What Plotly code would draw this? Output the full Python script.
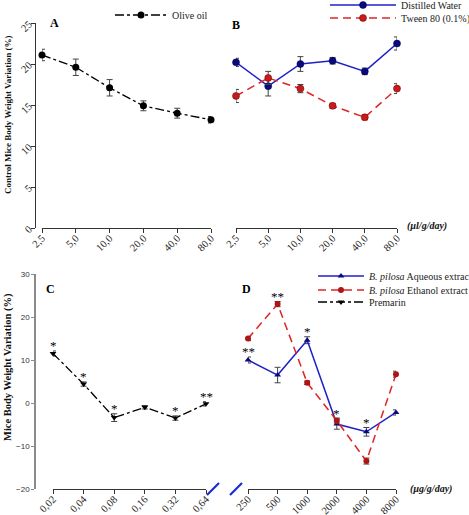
import plotly.graph_objects as go

W, H = 469, 515

# ---------------- data ----------------
dose_top = ["2,5", "5,0", "10,0", "20,0", "40,0", "80,0"]
olive = [21.1, 19.6, 17.1, 14.9, 14.0, 13.2]
olive_err = [0.7, 1.0, 1.0, 0.6, 0.6, 0.4]
water = [20.2, 17.3, 20.0, 20.4, 19.1, 22.5]
water_err = [0.5, 1.2, 0.9, 0.4, 0.4, 0.8]
tween = [16.1, 18.3, 17.0, 14.9, 13.5, 17.0]
tween_err = [0.8, 0.8, 0.5, 0.3, 0.3, 0.6]

dose_prem = ["0,02", "0,04", "0,08", "0,16", "0,32", "0,64"]
premarin = [11.5, 4.4, -3.4, -1.0, -3.5, -0.2]
premarin_err = [0.6, 0.5, 0.9, 0.4, 0.5, 0.5]
premarin_sig = ["*", "*", "*", "", "*", "**"]

dose_bp = ["250", "500", "1000", "2000", "4000", "8000"]
aqueous = [10.0, 6.5, 14.6, -4.9, -6.7, -2.2]
aqueous_err = [0.7, 1.8, 0.8, 1.2, 1.0, 0.6]
aqueous_sig = ["**", "", "*", "*", "*", ""]
ethanol = [15.0, 23.0, 4.7, -4.1, -13.5, 6.7]
ethanol_err = [0.5, 0.6, 0.4, 0.6, 0.7, 0.7]
ethanol_sig = ["", "**", "", "", "", ""]

idx = list(range(6))


def fx(p):
    return p / W


def fy(p):
    return 1 - p / H


SERIF = "Liberation Serif, Times New Roman, serif"
SANS = "Liberation Sans, Arial, sans-serif"
BLUE_LINE = "#2020c8"
BLUE_MK = "#0a0a80"
RED_LINE = "#e02424"
RED_MK = "#b01414"


def err(vals, color="#444"):
    return dict(type="data", array=vals, color=color, thickness=1, width=3)


fig = go.Figure()

# Panel A
fig.add_trace(go.Scatter(x=idx, y=olive, error_y=err(olive_err), name="Olive oil",
                         mode="lines+markers", line=dict(color="black", dash="dashdot", width=1.3),
                         marker=dict(symbol="circle", size=7, color="black"),
                         xaxis="x", yaxis="y", cliponaxis=False, legend="legend"))
# Panel B
fig.add_trace(go.Scatter(x=idx, y=water, error_y=err(water_err), name="Distilled Water",
                         mode="lines+markers", line=dict(color=BLUE_LINE, width=1.5),
                         marker=dict(symbol="circle", size=7, color=BLUE_MK, line=dict(color="#000040", width=0.5)),
                         xaxis="x2", yaxis="y2", cliponaxis=False, legend="legend2"))
fig.add_trace(go.Scatter(x=idx, y=tween, error_y=err(tween_err), name="Tween 80 (0.1%)",
                         mode="lines+markers", line=dict(color=RED_LINE, dash="8px,5px", width=1.5),
                         marker=dict(symbol="circle", size=7, color="#cc1a1a", line=dict(color="#600000", width=0.5)),
                         xaxis="x2", yaxis="y2", cliponaxis=False, legend="legend3"))
# Panel D
fig.add_trace(go.Scatter(x=idx, y=aqueous, error_y=err(aqueous_err), name="<i>B. pilosa</i> Aqueous extract",
                         mode="lines+markers", line=dict(color=BLUE_LINE, width=1.5),
                         marker=dict(symbol="triangle-up", size=6, color=BLUE_MK),
                         xaxis="x4", yaxis="y4", cliponaxis=False, legend="legend4"))
fig.add_trace(go.Scatter(x=idx, y=ethanol, error_y=err(ethanol_err), name="<i>B. pilosa</i> Ethanol extract",
                         mode="lines+markers", line=dict(color=RED_LINE, dash="8px,5px", width=1.5),
                         marker=dict(symbol="circle", size=6, color=RED_MK),
                         xaxis="x4", yaxis="y4", cliponaxis=False, legend="legend5"))
# Panel C
fig.add_trace(go.Scatter(x=idx, y=premarin, error_y=err(premarin_err), name="Premarin",
                         mode="lines+markers", line=dict(color="black", dash="dashdot", width=1.3),
                         marker=dict(symbol="triangle-down", size=6, color="black"),
                         xaxis="x3", yaxis="y3", cliponaxis=False, legend="legend6"))

annotations = []


def sig(xref, yref, vals, errs, marks):
    for i, (v, e, m) in enumerate(zip(vals, errs, marks)):
        if m:
            annotations.append(dict(x=i, y=v + e, xref=xref, yref=yref, text=m,
                                    showarrow=False, yanchor="bottom", yshift=-4,
                                    font=dict(family=SERIF, size=13, color="#000000")))


sig("x3", "y3", premarin, premarin_err, premarin_sig)
sig("x4", "y4", aqueous, aqueous_err, aqueous_sig)
sig("x4", "y4", ethanol, ethanol_err, ethanol_sig)

tickfont_serif = dict(family=SERIF, size=10.5, color="#222")
xcommon = dict(range=[0, 5], tickvals=idx, showline=True, linecolor="#333", linewidth=1,
               ticks="outside", ticklen=4, tickcolor="#333", tickangle=-45, automargin=False,
               ticklabelstandoff=-5, tickfont=tickfont_serif, showgrid=False, zeroline=False)

top_dom = [fy(228), fy(23)]
bot_dom = [fy(489), fy(274)]


def leg(x, y, w=40):
    # single-item legend placed so that its entry sits at pixel (x, y)
    return dict(x=fx(x), y=fy(y + 2), xanchor="left", yanchor="middle", bgcolor="rgba(0,0,0,0)",
                font=dict(family=SERIF, size=10, color="#222"), itemwidth=w)


fig.update_layout(
    width=W, height=H, margin=dict(l=0, r=0, t=0, b=0, autoexpand=False),
    paper_bgcolor="white", plot_bgcolor="white",
    xaxis=dict(domain=[fx(42), fx(211)], anchor="y", ticktext=dose_top, **xcommon),
    yaxis=dict(domain=top_dom, range=[0, 25], anchor="free", position=fx(35), dtick=5,
               showline=True, linecolor="#333", ticks="outside", ticklen=4, tickcolor="#333",
               tickangle=-45, tickfont=tickfont_serif, showgrid=False, zeroline=False, automargin=False),
    xaxis2=dict(domain=[fx(236), fx(397)], anchor="y2", ticktext=dose_top, **xcommon),
    yaxis2=dict(domain=top_dom, range=[0, 25], visible=False, automargin=False),
    xaxis3=dict(domain=[fx(53), fx(206)], anchor="y3", ticktext=dose_prem, **xcommon),
    yaxis3=dict(domain=bot_dom, range=[-20, 30], anchor="free", position=fx(35), dtick=10,
                showline=True, linecolor="#8a8a8a", linewidth=1.5, ticks="outside", ticklen=3,
                tickcolor="#8a8a8a", tickfont=dict(family=SANS, size=8, color="#333"),
                showgrid=False, zeroline=False, automargin=False),
    xaxis4=dict(domain=[fx(248), fx(396)], anchor="y4", ticktext=dose_bp, **xcommon),
    yaxis4=dict(domain=bot_dom, range=[-20, 30], visible=False, automargin=False),
    legend=leg(110, 13, 52),
    legend2=leg(325, 3, 66),
    legend3=leg(325, 16, 66),
    legend4=leg(313, 274, 46),
    legend5=leg(313, 288, 46),
    legend6=leg(313, 300, 46),
    showlegend=True,
)

# panel letters, titles, units
for txt, x, y in [("A", 54, 23), ("B", 236, 25), ("C", 50, 289), ("D", 246, 289)]:
    annotations.append(dict(x=fx(x), y=fy(y), xref="paper", yref="paper", text="<b>%s</b>" % txt,
                            showarrow=False, xanchor="center", yanchor="middle",
                            font=dict(family=SERIF, size=12, color="black")))
annotations.append(dict(x=fx(8), y=fy(115), xref="paper", yref="paper", textangle=-90,
                        text="<b>Control Mice Body Weight Variation (%)</b>", showarrow=False,
                        xanchor="center", yanchor="middle", font=dict(family=SERIF, size=9, color="#111")))
annotations.append(dict(x=fx(8), y=fy(367), xref="paper", yref="paper", textangle=-90,
                        text="<b>Mice Body Weight Variation (%)</b>", showarrow=False,
                        xanchor="center", yanchor="middle", font=dict(family=SERIF, size=10.5, color="#111")))
annotations.append(dict(x=fx(405), y=fy(226), xref="paper", yref="paper",
                        text="<b><i>(µl/g/day)</i></b>", showarrow=False, xanchor="left", yanchor="middle",
                        font=dict(family=SERIF, size=10, color="#111")))
annotations.append(dict(x=fx(408), y=fy(489), xref="paper", yref="paper",
                        text="<b><i>(µg/g/day)</i></b>", showarrow=False, xanchor="left", yanchor="middle",
                        font=dict(family=SERIF, size=10, color="#111")))

shapes = [
    dict(type="line", xref="paper", yref="paper", x0=fx(207), y0=fy(495), x1=fx(219), y1=fy(483),
         line=dict(color="#1a2ad0", width=2.2)),
    dict(type="line", xref="paper", yref="paper", x0=fx(230), y0=fy(495), x1=fx(242), y1=fy(483),
         line=dict(color="#1a2ad0", width=2.2)),
]

fig.update_layout(annotations=annotations, shapes=shapes)
fig.write_html("out.html", config={"displayModeBar": False},
               post_script="document.body.style.margin='0px';")
